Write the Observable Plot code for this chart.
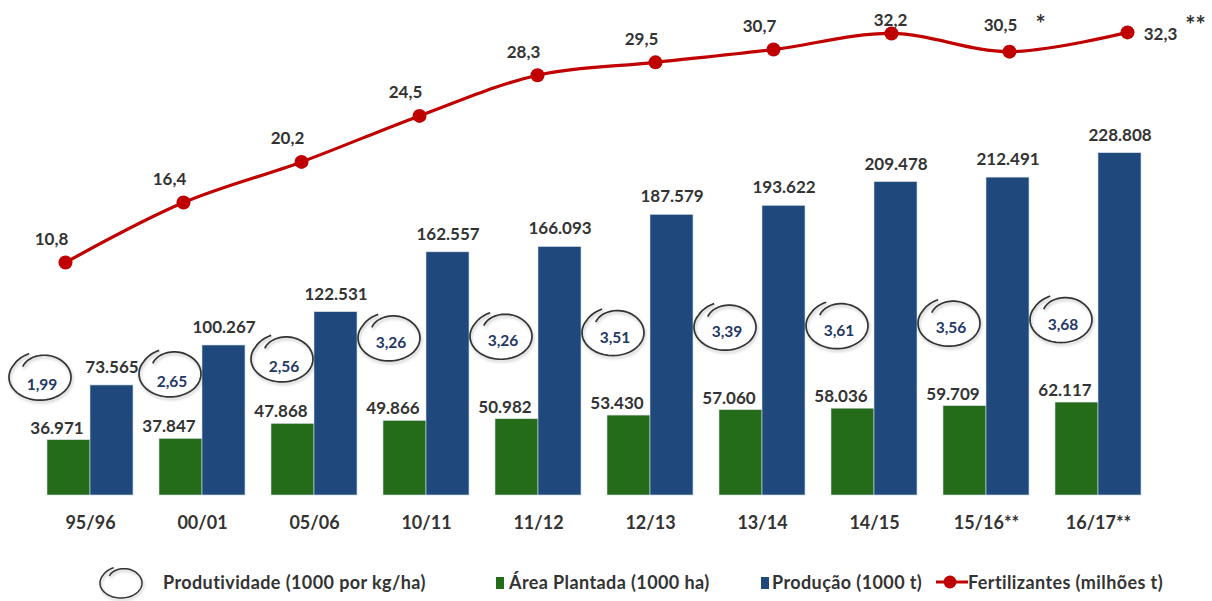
<!DOCTYPE html>
<html><head><meta charset="utf-8">
<script src="https://cdn.jsdelivr.net/npm/d3@7"></script>
<script src="https://cdn.jsdelivr.net/npm/@observablehq/plot@0.6"></script>
<style>
body{margin:0;background:#fff;font-family:Lato,"Noto Sans",sans-serif;}
#wrap{position:relative;width:1212px;height:601px;overflow:hidden;background:#fff;}
#wrap > svg{position:absolute;left:0;top:0;background:transparent;}
.swirl path{filter:drop-shadow(1px 2px 1.5px rgba(0,0,0,0.25));}
.leg{position:absolute;top:572px;font:bold 18px Lato,sans-serif;color:#333;white-space:nowrap;line-height:20px;letter-spacing:0.4px;}
.sw{position:absolute;}
</style></head><body><div id="wrap"></div>
<script>
const categories = ["95/96","00/01","05/06","10/11","11/12","12/13","13/14","14/15","15/16**","16/17**"];
const area = [36971,37847,47868,49866,50982,53430,57060,58036,59709,62117];
const production = [73565,100267,122531,162557,166093,187579,193622,209478,212491,228808];
const productivity = [1.99,2.65,2.56,3.26,3.26,3.51,3.39,3.61,3.56,3.68];
const fertilizers = [10.8,16.4,20.2,24.5,28.3,29.5,30.7,32.2,30.5,32.3];
const fertNotes = ["","","","","","","","","*","**"];
const seriesNames = ["Área Plantada (1000 ha)","Produção (1000 t)"];
const legendLabels = ["Produtividade (1000 por kg/ha)","Área Plantada (1000 ha)","Produção (1000 t)","Fertilizantes (milhões t)"];

const GREEN = "#246b1a", BLUE = "#1f497d", RED = "#c00000", TXT = "#333333", NAVY = "#1f3864";

const loc = d3.formatLocale({decimal:",", thousands:".", grouping:[3], currency:["",""]});
const fmtInt = loc.format(",d");
const fmt1 = loc.format(".1f");
const fmt2 = loc.format(".2f");

const rows = [];
categories.forEach((c,i)=>{
  rows.push({cat:c, series:seriesNames[0], value:area[i]});
  rows.push({cat:c, series:seriesNames[1], value:production[i]});
});
const prodRows = categories.map((c,i)=>({cat:c, i, area:area[i], p:productivity[i]}));
const fertRows = categories.map((c,i)=>({cat:c, i, v:fertilizers[i], note:fertNotes[i]}));

// swirl-shaped open ellipse (Excel "hand-drawn circle" annotation)
function makeSwirl(rx, ry){
  return {draw(ctx){
    const a0 = -2.45, span = 2*Math.PI + 0.55, N = 90;
    for(let k=0;k<=N;k++){
      const t = k/N;
      const a = a0 + t*span;
      const s = t < 0.22 ? 0.72 + 0.28*Math.sin((t/0.22)*Math.PI/2) : (t > 0.9 ? 1 + 0.08*(t-0.9)/0.1 : 1);
      const x = Math.cos(a)*rx*s, y = Math.sin(a)*ry*s;
      if(k===0) ctx.moveTo(x,y); else ctx.lineTo(x,y);
    }
  }};
}
const swirl = makeSwirl(31, 23);

// annotation groups (placement of the hand-drawn ellipses)
const groups = [
  {f:d=>d.i===0, dx:-29, dy:-63},
  {f:d=>d.i===1 || d.i===2, dx:-11, dy:-65},
  {f:d=>d.i>=3, dx:-16, dy:-83}
];
const swirlMarks = groups.flatMap(g=>[
  Plot.dot(prodRows.filter(g.f),{fx:"cat", x:()=>seriesNames[0], y:"area", symbol:swirl, stroke:"#333", strokeWidth:1.7, fill:"none", dx:g.dx, dy:g.dy, className:"swirl"}),
  Plot.text(prodRows.filter(g.f),{fx:"cat", x:()=>seriesNames[0], y:"area", text:d=>fmt2(d.p), dx:g.dx+2, dy:g.dy+(g.dy<-70?5:8), fontSize:15.5, fontWeight:"bold", fill:NAVY})
]);

const H = 560;
const bars = Plot.plot({
  width:1212, height:H, marginTop:121, marginBottom:65, marginLeft:21, marginRight:45,
  fx:{domain:categories, paddingInner:0.23, paddingOuter:0.23, label:null},
  x:{domain:seriesNames, padding:0, axis:null},
  y:{domain:[0,250000], axis:null},
  color:{domain:seriesNames, range:[GREEN, BLUE]},
  style:{fontFamily:"Lato, sans-serif", fontWeight:"bold", color:TXT, background:"transparent"},
  marks:[
    Plot.barY(rows,{fx:"cat", x:"series", y:"value", fill:"series", stroke:"#d8dde6", strokeWidth:0.6}),
    Plot.text(rows.filter(d=>d.series===seriesNames[0]),{fx:"cat", x:"series", y:"value", text:d=>fmtInt(d.value), dx:-12, dy:-12, fontSize:17, fontWeight:"bold", fill:TXT}),
    Plot.text(rows.filter(d=>d.series===seriesNames[1]),{fx:"cat", x:"series", y:"value", text:d=>fmtInt(d.value), dy:-18, fontSize:17, fontWeight:"bold", fill:TXT}),
    ...swirlMarks,
    Plot.axisFx({anchor:"bottom", tickSize:0, tickPadding:21, fontSize:18, fontWeight:"bold", fill:TXT, label:null})
  ]
});

const line = Plot.plot({
  width:1212, height:H, marginTop:3, marginBottom:H-377.6, marginLeft:62, marginRight:82,
  x:{type:"point", domain:categories, padding:0, axis:null},
  y:{domain:[0,35], axis:null},
  style:{fontFamily:"Lato, sans-serif", fontWeight:"bold", background:"transparent", overflow:"visible"},
  marks:[
    Plot.line(fertRows,{x:"cat", y:"v", stroke:RED, strokeWidth:3.2, curve:"catmull-rom"}),
    Plot.dot(fertRows,{x:"cat", y:"v", r:7, fill:RED}),
    Plot.text(fertRows.filter(d=>d.i<7),{x:"cat", y:"v", text:d=>fmt1(d.v), dx:-14, dy:-23, fontSize:17, fontWeight:"bold", fill:TXT}),
    Plot.text(fertRows.filter(d=>d.i===7),{x:"cat", y:"v", text:d=>fmt1(d.v), dx:-1, dy:-13, fontSize:17, fontWeight:"bold", fill:TXT}),
    Plot.text(fertRows.filter(d=>d.i===8),{x:"cat", y:"v", text:d=>fmt1(d.v), dx:-9, dy:-26, fontSize:17, fontWeight:"bold", fill:TXT}),
    Plot.text(fertRows.filter(d=>d.i===9),{x:"cat", y:"v", text:d=>fmt1(d.v), dx:33, dy:2, fontSize:17, fontWeight:"bold", fill:TXT}),
    Plot.text(fertRows.filter(d=>d.i===8),{x:"cat", y:"v", text:"note", dx:31, dy:-26, fontSize:24, fontWeight:"bold", fill:TXT}),
    Plot.text(fertRows.filter(d=>d.i===9),{x:"cat", y:"v", text:"note", dx:68, dy:-6, fontSize:24, fontWeight:"bold", fill:TXT})
  ]
});

const wrap = document.getElementById("wrap");
wrap.appendChild(bars);
wrap.appendChild(line);

// legend
function svgEl(inner){ return `<svg width="1" height="1" style="position:absolute;overflow:visible">${inner}</svg>`; }
const swirlPath = (()=>{ const p = d3.path(); makeSwirl(21,15).draw(p); return p.toString(); })();
const legendHTML = `
<div class="sw" style="left:121px;top:583px;">${svgEl(`<path d="${swirlPath}" fill="none" stroke="#333" stroke-width="1.5" style="filter:drop-shadow(1px 2px 1.5px rgba(0,0,0,0.25))"/>`)}</div>
<div class="leg" style="left:163px;">${legendLabels[0]}</div>
<div class="sw" style="left:496px;top:577px;width:8px;height:12px;background:${GREEN}"></div>
<div class="leg" style="left:509px;">${legendLabels[1]}</div>
<div class="sw" style="left:761px;top:577px;width:8px;height:12px;background:${BLUE}"></div>
<div class="leg" style="left:772px;">${legendLabels[2]}</div>
<div class="sw" style="left:936px;top:582px;">${svgEl(`<line x1="0" x2="32" y1="0" y2="0" stroke="${RED}" stroke-width="3"/><circle cx="14" cy="0" r="6.5" fill="${RED}"/>`)}</div>
<div class="leg" style="left:968px;">${legendLabels[3]}</div>`;
const lg = document.createElement("div");
lg.innerHTML = legendHTML;
while(lg.firstChild) wrap.appendChild(lg.firstChild);
</script>
</body></html>
